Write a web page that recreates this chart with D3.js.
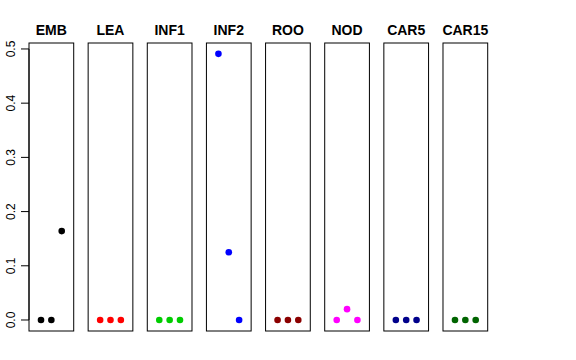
<!DOCTYPE html>
<html>
<head>
<meta charset="utf-8">
<script src="https://cdn.jsdelivr.net/npm/d3@7"></script>
<style>
	body { margin: 0; background: #fff; }
	text { font-family: "Liberation Sans", Arial, sans-serif; fill: #000; }
</style>
</head>
<body>
<svg id="chart" width="576" height="360"></svg>
<script>
var tissues = ["EMB", "LEA", "INF1", "INF2", "ROO", "NOD", "CAR5", "CAR15"];
var colors = ["#000000", "#ff0000", "#00cd00", "#0000ff", "#8b0000", "#ff00ff", "#00008b", "#006400"];
// three samples per tissue
var values = [
	[0, 0, 0.164],
	[0, 0, 0],
	[0, 0, 0],
	[0.491, 0.125, 0],
	[0, 0, 0],
	[0, 0.020, 0],
	[0, 0, 0],
	[0, 0, 0]
];
var yTicks = [0, 0.1, 0.2, 0.3, 0.4, 0.5];

var svg = d3.select("#chart");

// plot region (window.top is taken, so other names)
var plotTop = 43, plotBottom = 331;

var panel = d3.scaleBand()
	.domain(tissues)
	.range([29, 487.7])
	.paddingInner(0.244)
	.paddingOuter(0);

var y = d3.scaleLinear().domain([-0.0203, 0.511]).range([plotBottom, plotTop]);
// sample index inside a panel, R style xlim 0..4 with 4% extension
var x = d3.scaleLinear().domain([-0.16, 4.16]).range([0, panel.bandwidth()]);

// y axis on the left of the first panel
var axis = svg.append("g");
axis.append("line")
	.attr("x1", 29).attr("x2", 29)
	.attr("y1", y(0)).attr("y2", y(0.5))
	.attr("stroke", "#000");
yTicks.forEach(function(t) {
	axis.append("line")
		.attr("x1", 21).attr("x2", 29)
		.attr("y1", y(t)).attr("y2", y(t))
		.attr("stroke", "#000");
	axis.append("text")
		.attr("transform", "translate(15," + y(t) + ") rotate(-90)")
		.attr("text-anchor", "middle")
		.attr("font-size", 12)
		.text(d3.format(".1f")(t));
});

tissues.forEach(function(name, i) {
	var g = svg.append("g").attr("transform", "translate(" + panel(name) + ",0)");
	g.append("rect")
		.attr("x", 0).attr("y", plotTop)
		.attr("width", panel.bandwidth()).attr("height", plotBottom - plotTop)
		.attr("fill", "none")
		.attr("stroke", "#000");
	g.append("text")
		.attr("x", panel.bandwidth() / 2)
		.attr("y", 34.5)
		.attr("text-anchor", "middle")
		.attr("font-size", 14)
		.attr("font-weight", "bold")
		.text(name);
	g.selectAll("circle")
		.data(values[i])
		.enter().append("circle")
		.attr("cx", function(d, j) { return x(j + 1); })
		.attr("cy", function(d) { return y(d); })
		.attr("r", 3.3)
		.attr("fill", colors[i]);
});
</script>
</body>
</html>
